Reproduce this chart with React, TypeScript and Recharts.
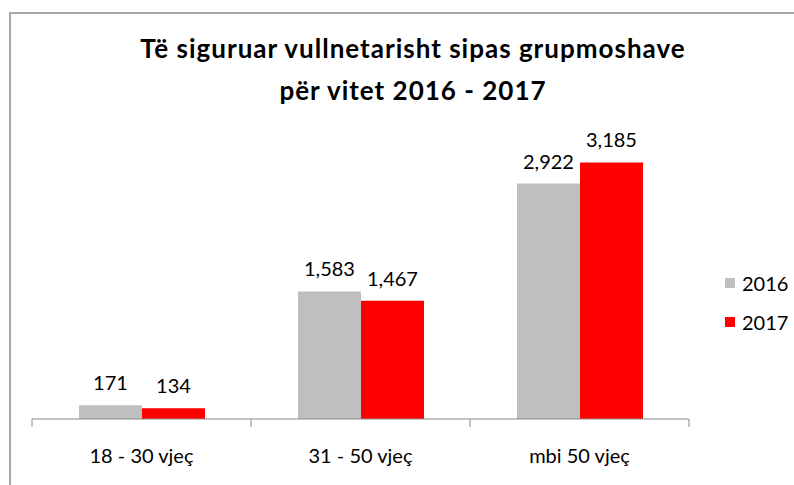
import React from 'react';
import { BarChart, Bar, XAxis, YAxis, Legend, LabelList } from 'recharts';

const categories = ['18 - 30 vjeç', '31 - 50 vjeç', 'mbi 50 vjeç'];
const values2016 = [171, 1583, 2922];
const values2017 = [134, 1467, 3185];
const seriesNames = ['2016', '2017'];
const seriesColors = ['#BFBFBF', '#FF0000'];
const titleLines = ['Të siguruar vullnetarisht sipas grupmoshave', 'për vitet 2016 - 2017'];

const data = categories.map((c, i) => ({ name: c, y2016: values2016[i], y2017: values2017[i] }));

const FONT = 'Lato, "Open Sans", sans-serif';
const AXIS_COLOR = '#898989';

const fmt = (v: any) => Number(v).toLocaleString('en-US');

const CategoryTick = (props: any) => {
  const { x, y, payload, index, visibleTicksCount } = props;
  const half = payload && payload.offset ? payload.offset : 0;
  const isLast = index === (visibleTicksCount ?? categories.length) - 1;
  return (
    <g>
      <line x1={x - half} x2={x - half} y1={y} y2={y + 8} stroke={AXIS_COLOR} strokeWidth={1} />
      {isLast && <line x1={x + half} x2={x + half} y1={y} y2={y + 8} stroke={AXIS_COLOR} strokeWidth={1} />}
      <text x={x} y={y + 44} textAnchor="middle" fill="#000" fontSize={20} fontFamily={FONT}>
        {payload.value}
      </text>
    </g>
  );
};

const LegendContent = (props: any) => {
  const payload = props.payload || [];
  return (
    <div style={{ fontFamily: FONT }}>
      {payload.map((p: any) => (
        <div key={p.value} style={{ display: 'flex', alignItems: 'center', height: 39 }}>
          <span style={{ display: 'inline-block', width: 10, height: 10, background: p.color, marginRight: 7 }} />
          <span style={{ fontSize: 20, color: '#000' }}>{p.value}</span>
        </div>
      ))}
    </div>
  );
};

export default function App() {
  return (
    <div style={{ position: 'absolute', left: 0, top: 0, width: 794, height: 485, overflow: 'hidden', background: '#fff', fontFamily: FONT }}>
      <div style={{ position: 'absolute', left: 9, top: 12, width: 800, height: 500, border: '2px solid #a8a8a8', boxSizing: 'border-box' }} />
      <div style={{ position: 'absolute', left: 113, top: 27, width: 600, textAlign: 'center', fontSize: 26, letterSpacing: 1, fontWeight: 700, lineHeight: '42px', color: '#000', whiteSpace: 'nowrap' }}>
        {titleLines.map((t) => (
          <div key={t}>{t}</div>
        ))}
      </div>
      <div style={{ position: 'absolute', left: 0, top: 0 }}>
        <BarChart
          width={794}
          height={485}
          data={data}
          margin={{ top: 137, right: 105, bottom: 6, left: 32 }}
          barGap={0}
          barSize={63}
        >
          <XAxis
            dataKey="name"
            height={60}
            axisLine={{ stroke: AXIS_COLOR, strokeWidth: 1 }}
            tickLine={false}
            tickSize={0}
            tickMargin={0}
            interval={0}
            tick={<CategoryTick />}
          />
          <YAxis hide domain={[0, 3500]} />
          <Legend
            layout="vertical"
            align="center"
            verticalAlign="middle"
            wrapperStyle={{ left: 725, top: 263, width: 80 }}
            content={<LegendContent />}
          />
          <Bar dataKey="y2016" name={seriesNames[0]} fill={seriesColors[0]} isAnimationActive={false}>
            <LabelList dataKey="y2016" position="top" offset={15} formatter={fmt} style={{ fill: '#000', fontSize: 20, fontFamily: FONT }} />
          </Bar>
          <Bar dataKey="y2017" name={seriesNames[1]} fill={seriesColors[1]} isAnimationActive={false}>
            <LabelList dataKey="y2017" position="top" offset={15} formatter={fmt} style={{ fill: '#000', fontSize: 20, fontFamily: FONT }} />
          </Bar>
        </BarChart>
      </div>
    </div>
  );
}
